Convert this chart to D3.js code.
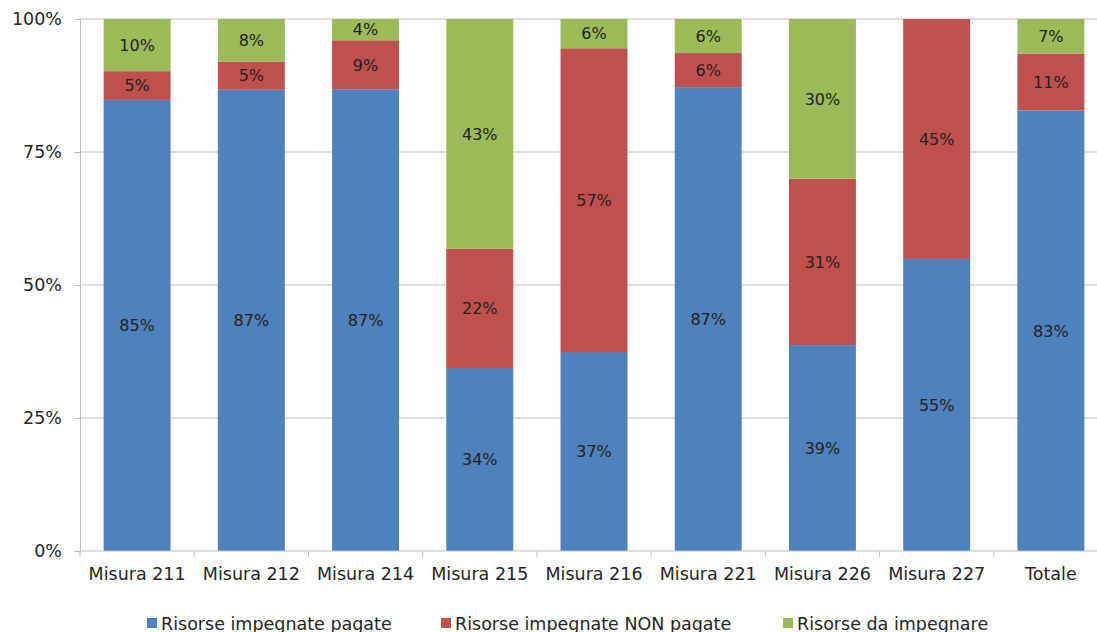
<!DOCTYPE html>
<html><head><meta charset="utf-8">
<script src="https://cdn.jsdelivr.net/npm/d3@7"></script>
<style>body{margin:0;background:#fff}svg{display:block;font-family:"DejaVu Sans",Verdana,sans-serif}</style>
</head><body><svg id="c" width="1097" height="632"></svg>
<script>
const categories = ["Misura 211","Misura 212","Misura 214","Misura 215","Misura 216","Misura 221","Misura 226","Misura 227","Totale"];
const seriesNames = ["Risorse impegnate pagate","Risorse impegnate NON pagate","Risorse da impegnare"];
const pagate    = [84.8, 86.7, 86.8, 34.4, 37.4, 87.2, 38.7, 54.9, 82.8];
const nonPagate = [5.4, 5.3, 9.2, 22.4, 57.1, 6.4, 31.3, 45.1, 10.7];
const daImpegnare = [9.8, 8.0, 4.0, 43.2, 5.5, 6.4, 30.0, 0, 6.5];
const yTicks = [0, 25, 50, 75, 100];
const colors = ["#4F81BD", "#C0504D", "#9BBB59"];

(function () {
const svg = d3.select("#c");
const pL = 80, pR = 1108, pT = 19, pB = 551;
const FONT = "DejaVu Sans, Verdana, sans-serif";
const x = d3.scaleBand().domain(categories).range([pL, pR]).paddingInner(0.414).paddingOuter(0.207);
const y = d3.scaleLinear().domain([0, 100]).range([pB, pT]);

// gridlines
svg.append("g").selectAll("line").data(yTicks.filter(d => d > 0)).join("line")
  .attr("x1", pL).attr("x2", pR).attr("y1", d => y(d)).attr("y2", d => y(d))
  .attr("stroke", "#C0C0C0").attr("stroke-width", 1);

const rows = categories.map((c, i) => ({cat: c, s0: pagate[i], s1: nonPagate[i], s2: daImpegnare[i]}));
const stack = d3.stack().keys(["s0", "s1", "s2"])(rows);

const g = svg.append("g");
stack.forEach((layer, li) => {
  g.append("g").selectAll("rect").data(layer).join("rect")
    .attr("x", d => x(d.data.cat)).attr("width", x.bandwidth())
    .attr("y", d => y(d[1])).attr("height", d => y(d[0]) - y(d[1]))
    .attr("fill", colors[li]);
});
stack.forEach((layer, li) => {
  g.append("g").selectAll("text").data(layer.filter(d => d[1] - d[0] > 0)).join("text")
    .attr("x", d => x(d.data.cat) + x.bandwidth() / 2)
    .attr("y", d => (y(d[0]) + y(d[1])) / 2)
    .attr("dy", "0.36em").attr("text-anchor", "middle")
    .attr("font-size", 16).attr("fill", "#222222")
    .text(d => Math.round(d[1] - d[0]) + "%");
});

// y axis
const yAxis = d3.axisLeft(y).tickValues(yTicks).tickFormat(d => d + "%").tickSize(6).tickPadding(12);
const ya = svg.append("g").attr("transform", `translate(${pL},0)`).call(yAxis);
ya.select(".domain").attr("stroke", "#BFBFBF");
ya.selectAll(".tick line").attr("stroke", "#BFBFBF");
ya.selectAll("text").attr("font-size", 17.5).attr("fill", "#262626").attr("font-family", FONT);

// x axis
const xAxis = d3.axisBottom(x).tickSize(0).tickPadding(17);
const xa = svg.append("g").attr("transform", `translate(0,${pB})`).call(xAxis);
xa.select(".domain").attr("stroke", "#BFBFBF").attr("d", `M${pL},0H${pR}`);
xa.selectAll("text").attr("font-size", 17.5).attr("fill", "#262626").attr("font-family", FONT);
const bounds = categories.map(c => x(c) - x.step() * x.paddingInner() / 2).concat([pR]);
xa.append("g").selectAll("line").data(bounds).join("line")
  .attr("x1", d => d).attr("x2", d => d).attr("y1", 0).attr("y2", 6).attr("stroke", "#BFBFBF");

// legend
const legX = [147, 441, 783];
const leg = svg.append("g");
seriesNames.forEach((n, i) => {
  leg.append("rect").attr("x", legX[i]).attr("y", 618).attr("width", 10).attr("height", 10).attr("fill", colors[i]);
  leg.append("text").attr("x", legX[i] + 14).attr("y", 630)
    .attr("font-size", 17.5).attr("fill", "#262626").text(n);
});
})();
</script></body></html>
